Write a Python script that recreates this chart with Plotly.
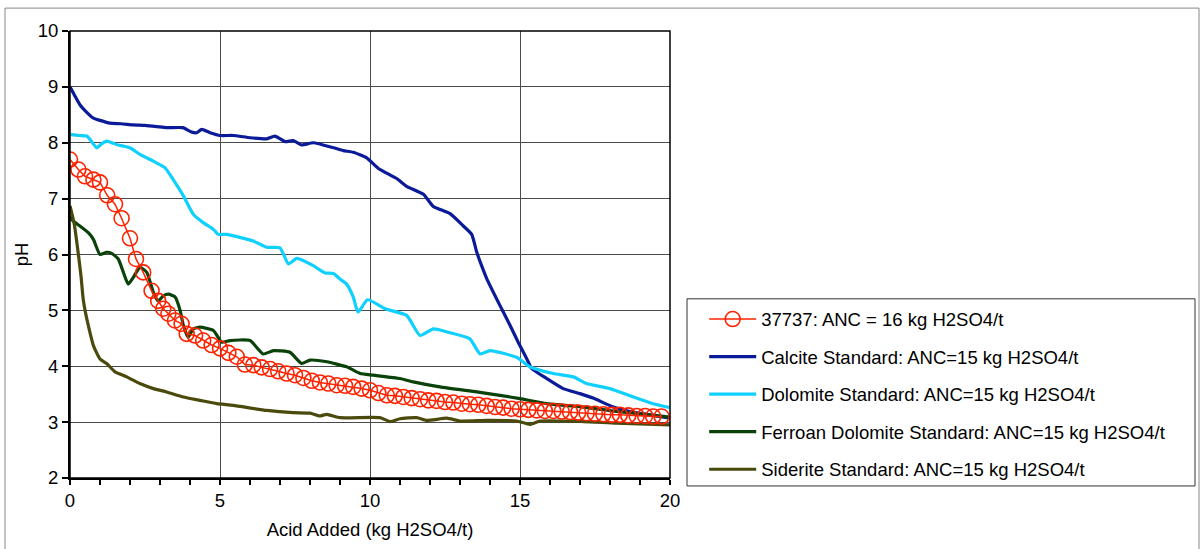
import plotly.graph_objects as go

# ---- data ----
sample_x = [0, 0.28, 0.5, 0.78, 1.0, 1.24, 1.5, 1.72, 2.0, 2.2, 2.44, 2.72, 2.94, 3.11, 3.28, 3.5, 3.72, 3.89,
            4.17, 4.44, 4.72, 5.0, 5.28, 5.56, 5.83, 6.11, 6.39, 6.67, 6.94, 7.22, 7.5, 7.78, 8.06, 8.33, 8.61,
            8.89, 9.17, 9.44, 9.72, 10.0, 10.28, 10.56, 10.83, 11.11, 11.39, 11.67, 11.94, 12.22, 12.5, 12.78,
            13.06, 13.33, 13.61, 13.89, 14.17, 14.44, 14.72, 15.0, 15.28, 15.56, 15.83, 16.11, 16.39, 16.67,
            16.94, 17.22, 17.5, 17.78, 18.06, 18.33, 18.61, 18.89, 19.17, 19.44, 19.72]
sample_y = [7.70, 7.52, 7.40, 7.34, 7.29, 7.06, 6.90, 6.65, 6.29, 5.92, 5.68, 5.35, 5.17, 5.03, 4.94, 4.82, 4.76, 4.58,
            4.55, 4.46, 4.38, 4.32, 4.24, 4.17, 4.03, 4.02, 3.98, 3.95, 3.91, 3.87, 3.84, 3.79, 3.74, 3.71, 3.69,
            3.66, 3.65, 3.63, 3.60, 3.57, 3.52, 3.48, 3.47, 3.45, 3.43, 3.41, 3.39, 3.38, 3.36, 3.35,
            3.33, 3.32, 3.31, 3.29, 3.27, 3.26, 3.24, 3.23, 3.22, 3.21, 3.20, 3.20, 3.19, 3.18,
            3.17, 3.16, 3.15, 3.14, 3.13, 3.13, 3.12, 3.11, 3.11, 3.10, 3.10]

calcite_x = [0, 0.15, 0.33, 0.55, 0.78, 1.0, 1.33, 1.7, 2.11, 2.5, 2.89, 3.22, 3.76, 4.06, 4.22, 4.39, 4.67, 5.0,
             5.44, 6.0, 6.56, 6.83, 7.17, 7.44, 7.72, 8.11, 8.78, 9.11, 9.44, 9.89, 10.28, 10.89, 11.22, 11.78,
             12.11, 12.67, 13.11, 13.39, 13.56, 13.72, 13.89, 14.33, 14.67, 14.94, 15.22, 15.39, 15.89, 16.44,
             17.0, 17.44, 18.11, 18.67, 19.33, 20.0]
calcite_y = [9.00, 8.85, 8.68, 8.55, 8.44, 8.40, 8.35, 8.34, 8.32, 8.31, 8.29, 8.27, 8.27, 8.19, 8.18, 8.24, 8.18, 8.13,
             8.13, 8.09, 8.07, 8.12, 8.02, 8.04, 7.96, 8.00, 7.91, 7.86, 7.83, 7.73, 7.54, 7.36, 7.22, 7.08,
             6.86, 6.73, 6.51, 6.36, 6.04, 5.80, 5.57, 5.09, 4.73, 4.43, 4.14, 3.96, 3.78, 3.60,
             3.51, 3.43, 3.27, 3.19, 3.13, 3.07]

dolomite_x = [0, 0.3, 0.56, 0.75, 0.89, 1.05, 1.22, 1.6, 2.0, 2.33, 2.78, 3.17, 3.44, 3.78, 4.11, 4.44, 4.78, 4.94,
              5.22, 6.11, 6.56, 7.0, 7.28, 7.56, 8.11, 8.5, 8.78, 9.0, 9.22, 9.44, 9.6, 9.92, 10.5, 11.22, 11.67,
              12.11, 12.67, 13.33, 13.67, 14.0, 14.89, 15.33, 16.11, 16.78, 17.22, 18.0, 18.78, 19.44, 20.0]
dolomite_y = [8.15, 8.13, 8.12, 8.00, 7.91, 7.98, 8.03, 7.96, 7.91, 7.79, 7.67, 7.55, 7.34, 7.05, 6.72, 6.57, 6.45, 6.36,
              6.36, 6.24, 6.13, 6.12, 5.83, 5.93, 5.80, 5.67, 5.66, 5.56, 5.47, 5.24, 4.97, 5.19, 5.03, 4.91, 4.55,
              4.67, 4.60, 4.49, 4.22, 4.28, 4.16, 3.99, 3.87, 3.81, 3.69, 3.60, 3.45, 3.33, 3.26]

ferroan_x = [0, 0.1, 0.33, 0.61, 0.78, 1.0, 1.22, 1.39, 1.61, 1.78, 1.94, 2.11, 2.33, 2.56, 2.78, 2.94, 3.11, 3.28,
             3.5, 3.67, 3.78, 3.94, 4.11, 4.33, 4.78, 5.06, 5.33, 6.0, 6.44, 6.78, 7.33, 7.72, 8.0, 8.56, 9.22,
             9.67, 10.11, 11.0, 11.44, 12.33, 13.56, 14.33, 15.0, 15.89, 17.11, 18.22, 19.33, 20.0]
ferroan_y = [6.68, 6.60, 6.51, 6.39, 6.27, 6.00, 6.04, 6.02, 5.92, 5.68, 5.47, 5.59, 5.77, 5.68, 5.32, 5.17, 5.26, 5.29,
             5.24, 5.00, 4.73, 4.52, 4.67, 4.70, 4.64, 4.43, 4.46, 4.46, 4.22, 4.28, 4.25, 4.05, 4.11, 4.08, 3.99,
             3.87, 3.84, 3.78, 3.72, 3.63, 3.54, 3.48, 3.42, 3.33, 3.27, 3.19, 3.13, 3.09]

siderite_x = [0, 0.14, 0.28, 0.37, 0.44, 0.52, 0.61, 0.78, 1.0, 1.22, 1.5, 1.89, 2.33, 2.78, 3.22, 3.78, 4.33, 4.89,
              5.44, 6.56, 7.44, 8.0, 8.33, 8.56, 9.0, 10.33, 10.67, 11.0, 11.56, 11.89, 12.56, 13.0, 13.89, 14.89,
              15.33, 15.67, 17.11, 18.22, 20.0]
siderite_y = [6.87, 6.55, 6.00, 5.60, 5.20, 4.95, 4.73, 4.37, 4.13, 4.05, 3.90, 3.81, 3.69, 3.60, 3.54, 3.45, 3.39, 3.33,
              3.30, 3.21, 3.17, 3.16, 3.11, 3.14, 3.08, 3.08, 3.01, 3.06, 3.08, 3.03, 3.07, 3.02, 3.03, 3.02,
              2.96, 3.02, 3.01, 2.98, 2.95]

names = ["37737: ANC = 16 kg H2SO4/t",
         "Calcite Standard: ANC=15 kg H2SO4/t",
         "Dolomite Standard: ANC=15 kg H2SO4/t",
         "Ferroan Dolomite Standard: ANC=15 kg H2SO4/t",
         "Siderite Standard: ANC=15 kg H2SO4/t"]

x_ticks = [0, 5, 10, 15, 20]
y_ticks = [2, 3, 4, 5, 6, 7, 8, 9, 10]

FONT = "Liberation Sans, Arial, sans-serif"
FS = 18.5

fig = go.Figure()
curves = [
    (calcite_x, calcite_y, "#0A1A99", names[1]),
    (dolomite_x, dolomite_y, "#10D0FF", names[2]),
    (ferroan_x, ferroan_y, "#0A420A", names[3]),
    (siderite_x, siderite_y, "#4A4A0C", names[4]),
]
for i, (xs, ys, col, nm) in enumerate(curves):
    fig.add_trace(go.Scatter(x=xs, y=ys, mode="lines", name=nm, legendgroup=nm, legendrank=i + 2,
                             line=dict(color=col, width=3.2, shape="spline", smoothing=0.5)))
fig.add_trace(go.Scatter(x=sample_x, y=sample_y, mode="lines+markers", name=names[0], legendgroup=names[0],
                         legendrank=1,
                         line=dict(color="#FF2200", width=1.5),
                         marker=dict(symbol="circle-open", size=15, color="#FF2200",
                                     line=dict(width=1.6, color="#FF2200"))))

fig.update_layout(
    width=1201, height=549,
    margin=dict(l=70, r=531, t=31, b=69),
    paper_bgcolor="white", plot_bgcolor="white",
    font=dict(family=FONT, size=FS, color="black"),
    showlegend=True,
    legend=dict(x=1.057, y=0.397, xanchor="left", yanchor="top", bgcolor="rgba(0,0,0,0)",
                borderwidth=0, font=dict(size=FS, family=FONT), itemwidth=47, tracegroupgap=10.5,
                traceorder="grouped"),
    xaxis=dict(range=[0, 20], tickvals=x_ticks, ticktext=[str(v) for v in x_ticks],
               showgrid=True, gridcolor="#4a4a4a", gridwidth=1,
               showline=True, linecolor="black", linewidth=2,
               ticks="outside", ticklen=5, tickwidth=1.5, tickcolor="black",
               minor=dict(dtick=1, ticks="outside", ticklen=5, tickwidth=1.5, tickcolor="black", showgrid=False),
               zeroline=False,
               tickfont=dict(size=FS, family=FONT),
               title=dict(text="Acid Added (kg H2SO4/t)", font=dict(size=FS, family=FONT), standoff=13)),
    yaxis=dict(range=[2, 10], tickvals=y_ticks, ticktext=[str(v) for v in y_ticks],
               showgrid=True, gridcolor="#4a4a4a", gridwidth=1,
               showline=True, linecolor="black", linewidth=2,
               ticks="outside", ticklen=6, tickwidth=1.5, tickcolor="black",
               zeroline=False,
               tickfont=dict(size=FS, family=FONT),
               title=dict(text="pH", font=dict(size=FS, family=FONT), standoff=4)),
    shapes=[
        dict(type="rect", xref="paper", yref="paper", x0=0, x1=1, y0=0, y1=1,
             line=dict(color="black", width=1.5), layer="above"),
        dict(type="rect", xref="paper", yref="paper", x0=(687 - 70) / 600, x1=(1195 - 70) / 600,
             y0=(480 - 488) / 449, y1=(480 - 300) / 449, line=dict(color="#333333", width=1)),
        dict(type="rect", xref="paper", yref="paper", x0=(5 - 70) / 600, x1=(1199 - 70) / 600,
             y0=(480 - 560) / 449, y1=(480 - 8) / 449, line=dict(color="#888888", width=1), layer="below"),
    ],
)

fig.write_html("out.html", config={"displayModeBar": False},
               post_script="document.body.style.margin='0';document.body.style.overflow='hidden';")
